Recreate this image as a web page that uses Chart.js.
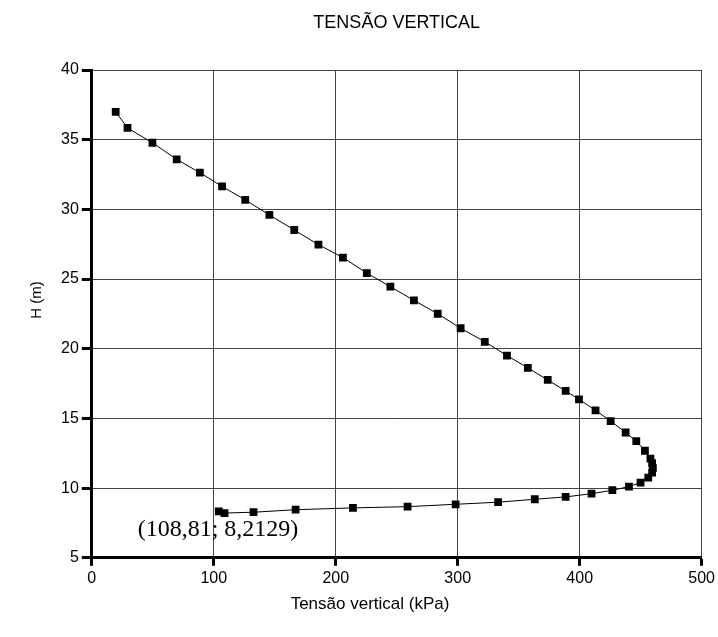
<!DOCTYPE html>
<html>
<head>
<meta charset="utf-8">
<script src="https://cdn.jsdelivr.net/npm/chart.js@4/dist/chart.umd.min.js"></script>
<style>
  body { margin: 0; background: #fff; }
  canvas { display: block; }
</style>
</head>
<body>
<canvas id="chart" width="718" height="637"></canvas>
<script>
// tensão vertical (kPa) x altura H (m), de cima para baixo
const tensao = [19.6, 29.3, 49.7, 69.6, 88.6, 106.8, 125.8, 145.6, 166.0, 185.8, 205.9, 225.5, 244.8, 264.1, 283.6, 302.4, 322.2, 340.4, 357.5, 373.8, 388.5, 399.4, 413.0, 425.4, 437.7, 446.4, 453.5, 458.0, 459.4, 460.0, 459.4, 456.2, 449.9, 440.4, 426.8, 409.7, 388.5, 363.2, 333.1, 298.3, 258.9, 214.1, 167.1, 132.6, 108.81, 104.1];
const altura = [37.0, 35.84, 34.78, 33.59, 32.63, 31.65, 30.68, 29.6, 28.52, 27.47, 26.54, 25.43, 24.45, 23.47, 22.51, 21.47, 20.50, 19.51, 18.63, 17.76, 16.97, 16.37, 15.58, 14.81, 13.99, 13.37, 12.68, 12.12, 11.79, 11.43, 11.12, 10.76, 10.40, 10.11, 9.85, 9.60, 9.37, 9.20, 8.99, 8.84, 8.67, 8.58, 8.45, 8.27, 8.2129, 8.33];
const rotulo = { x: 108.81, y: 8.2129, texto: '(108,81; 8,2129)' };
const titulo = 'TENSÃO VERTICAL';
const tituloX = 'Tensão vertical (kPa)';
const tituloY = 'H (m)';

const pontos = tensao.map((x, i) => ({ x: x, y: altura[i] }));
const fonte = '"Liberation Sans", Arial, sans-serif';

// títulos e rótulo desenhados à mão para ficarem onde estão no original
const textos = {
  id: 'textos',
  afterDraw(chart) {
    const ctx = chart.ctx;
    const a = chart.chartArea;
    ctx.save();
    ctx.fillStyle = '#000';
    ctx.textAlign = 'center';
    ctx.textBaseline = 'middle';

    ctx.font = '18px ' + fonte;
    ctx.fillText(titulo, (a.left + a.right) / 2, 23);

    ctx.font = '17px ' + fonte;
    ctx.fillText(tituloX, 370, 604);

    ctx.save();
    ctx.translate(37, 300);
    ctx.rotate(-Math.PI / 2);
    ctx.font = '15px ' + fonte;
    ctx.fillText(tituloY, 0, 0);
    ctx.restore();

    const px = chart.scales.x.getPixelForValue(rotulo.x);
    const py = chart.scales.y.getPixelForValue(rotulo.y);
    ctx.font = '24px "Liberation Serif", "Times New Roman", serif';
    ctx.fillText(rotulo.texto, px - 6.5, py + 17);
    ctx.restore();
  }
};

new Chart(document.getElementById('chart').getContext('2d'), {
  type: 'scatter',
  data: {
    datasets: [{
      data: pontos,
      showLine: true,
      borderColor: '#000',
      borderWidth: 1,
      backgroundColor: '#000',
      pointStyle: 'rect',
      pointRadius: 5.5,
      pointBorderWidth: 0
    }]
  },
  options: {
    responsive: false,
    animation: false,
    layout: { padding: { left: 58, right: 15, top: 70, bottom: 46 } },
    plugins: {
      legend: { display: false },
      tooltip: { enabled: false },
      title: { display: false }
    },
    scales: {
      x: {
        type: 'linear',
        min: 0, max: 500,
        ticks: { stepSize: 100, color: '#000', padding: 3, font: { family: fonte, size: 16 } },
        grid: { color: '#444', lineWidth: 1, tickColor: '#000', tickWidth: 3, tickLength: 8 },
        border: { color: '#000', width: 3 }
      },
      y: {
        type: 'linear',
        min: 5, max: 40,
        ticks: { stepSize: 5, color: '#000', padding: 3, font: { family: fonte, size: 16 } },
        grid: { color: '#444', lineWidth: 1, tickColor: '#000', tickWidth: 3, tickLength: 10 },
        border: { color: '#000', width: 3 }
      }
    }
  },
  plugins: [textos]
});
</script>
</body>
</html>
